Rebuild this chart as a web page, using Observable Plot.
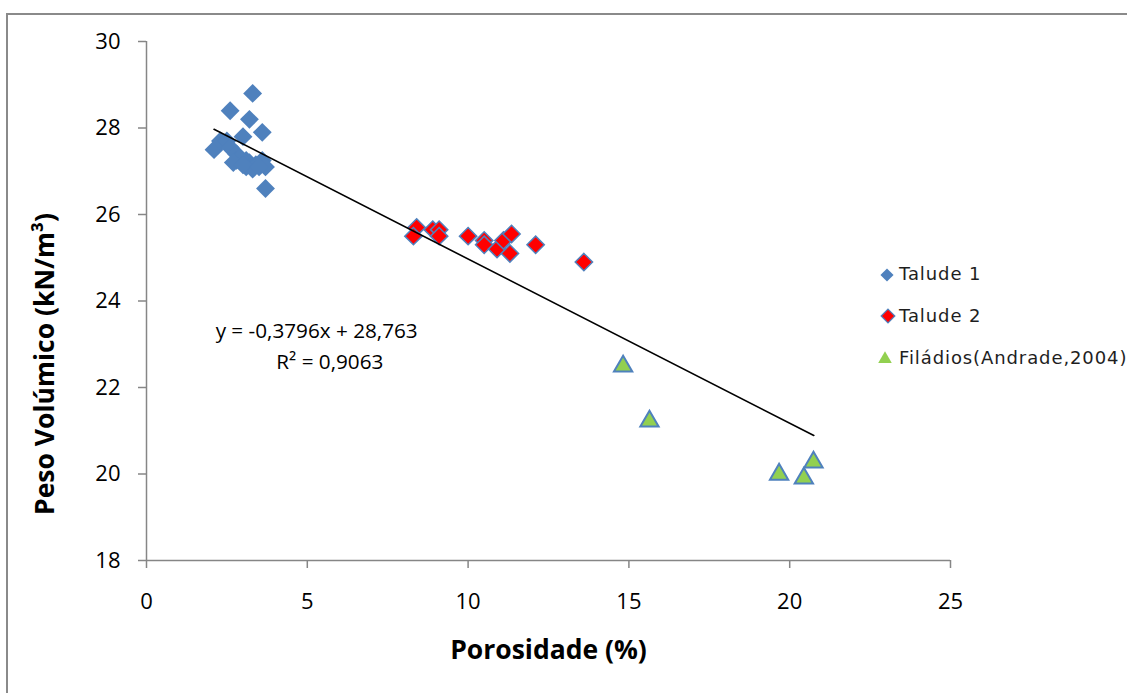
<!DOCTYPE html>
<html><head><meta charset="utf-8">
<script src="https://cdn.jsdelivr.net/npm/d3@7"></script>
<script src="https://cdn.jsdelivr.net/npm/@observablehq/plot@0.6"></script>
<style>
html,body{margin:0;padding:0;background:#fff;}
body{width:1127px;height:693px;overflow:hidden;position:relative;}
#frame{position:absolute;left:6px;top:13px;width:1200px;height:800px;border:2px solid #8a8a8a;box-sizing:border-box;}
#chart{position:absolute;left:0;top:0;}
.leg{position:absolute;left:0;top:0;font-family:"DejaVu Sans",sans-serif;font-size:18px;letter-spacing:0.9px;color:#1e1e1e;white-space:nowrap;}
.leg svg{position:absolute;overflow:visible;}
.leg span{position:absolute;}
</style></head>
<body>
<div id="frame"></div>
<div id="chart"></div>
<div id="legend"></div>
<script>
// ---- data ----
const talude1X = [3.3, 2.6, 3.2, 3.6, 3.0, 2.1, 2.3, 2.5, 2.6, 2.8, 2.8, 3.1, 3.2, 3.4, 3.6, 3.7, 3.1, 2.9, 3.3, 2.7, 3.0, 3.5, 3.7];
const talude1Y = [28.8, 28.4, 28.2, 27.9, 27.8, 27.5, 27.7, 27.7, 27.55, 27.4, 27.25, 27.25, 27.2, 27.15, 27.25, 27.1, 27.1, 27.3, 27.05, 27.2, 27.15, 27.1, 26.6];
const talude2X = [8.4, 8.3, 8.9, 9.1, 9.1, 10.0, 10.5, 10.5, 10.9, 11.1, 11.35, 11.3, 12.1, 13.6];
const talude2Y = [25.7, 25.5, 25.65, 25.65, 25.5, 25.5, 25.4, 25.3, 25.2, 25.4, 25.55, 25.1, 25.3, 24.9];
const filadiosX = [14.82, 15.64, 19.67, 20.44, 20.74];
const filadiosY = [22.49, 21.22, 19.99, 19.9, 20.27];
const trendX = [2.1, 20.75];
const trendY = [27.97, 20.89];
const seriesNames = ["Talude 1", "Talude 2", "Filádios(Andrade,2004)"];
const xTicks = [0, 5, 10, 15, 20, 25];
const yTicks = [18, 20, 22, 24, 26, 28, 30];
const equationLines = ["y = -0,3796x + 28,763", "R² = 0,9063"];
const equationX = [5.29, 5.7];
const equationY = [23.3, 22.58];
const xTitle = "Porosidade (%)";
const yTitle = "Peso Volúmico (kN/m³)";

const toRows = (xs, ys) => xs.map((x, i) => ({x, y: ys[i]}));
const t1 = toRows(talude1X, talude1Y);
const t2 = toRows(talude2X, talude2Y);
const fl = toRows(filadiosX, filadiosY);
const tr = toRows(trendX, trendY);
const eq = equationLines.map((t, i) => ({t, x: equationX[i], y: equationY[i]}));

const axisGray = "#868686";
const blue = "#4F81BD", red = "#FF0000", green = "#92D050";

const plot = Plot.plot({
  width: 1127, height: 693,
  marginLeft: 146, marginRight: 177, marginTop: 41, marginBottom: 133,
  x: {domain: [0, 25]},
  y: {domain: [18, 30]},
  style: {background: "transparent", fontFamily: "Open Sans", color: "#000"},
  marks: [
    Plot.ruleX([0], {stroke: axisGray, strokeWidth: 1.5}),
    Plot.ruleY([18], {stroke: axisGray, strokeWidth: 1.5}),
    Plot.axisX({ticks: xTicks, tickSize: 8, tickPadding: 25, tickFormat: d => String(d), label: null,
      stroke: axisGray, strokeWidth: 1.5, fill: "#000", fontSize: 22, fontFamily: "Open Sans"}),
    Plot.axisY({ticks: yTicks, tickSize: 8, tickPadding: 18, tickFormat: d => String(d), label: null,
      stroke: axisGray, strokeWidth: 1.5, fill: "#000", fontSize: 22, fontFamily: "Open Sans"}),
    Plot.dot(t1, {x: "x", y: "y", symbol: "diamond2", r: 8.5, fill: blue, stroke: "none"}),
    Plot.dot(t2, {x: "x", y: "y", symbol: "diamond2", r: 7.8, fill: red, stroke: blue, strokeWidth: 1.5}),
    Plot.dot(fl, {x: "x", y: "y", symbol: "triangle", r: 6.8, fill: green, stroke: blue, strokeWidth: 2}),
    Plot.line(tr, {x: "x", y: "y", stroke: "#000", strokeWidth: 1.6}),
    Plot.text(eq, {x: "x", y: "y", text: "t", fontSize: 20.7, fontFamily: "Open Sans", fill: "#000", textAnchor: "middle"}),
    Plot.text([xTitle], {frameAnchor: "bottom", dy: 98, fontSize: 26.5, fontWeight: "bold", fontFamily: "Open Sans", fill: "#000", textAnchor: "middle"}),
    Plot.text([yTitle], {frameAnchor: "left", dx: -101, dy: 63, rotate: -90, fontSize: 26.5, fontWeight: "bold", fontFamily: "Open Sans", fill: "#000", textAnchor: "middle"})
  ]
});
document.getElementById("chart").appendChild(plot);

// ---- legend ----
const legItems = [
  {name: seriesNames[0], sym: d3.symbolDiamond2, size: 110, fill: blue, stroke: "none", sw: 0, cx: 887, cy: 275, tx: 899, ty: 263},
  {name: seriesNames[1], sym: d3.symbolDiamond2, size: 120, fill: red, stroke: blue, sw: 1.2, cx: 888, cy: 316, tx: 899, ty: 305},
  {name: seriesNames[2], sym: d3.symbolTriangle, size: 80, fill: green, stroke: "none", sw: 0, cx: 885, cy: 359, tx: 899, ty: 347}
];
const leg = d3.select("#legend");
legItems.forEach(it => {
  const d = leg.append("div").attr("class", "leg");
  d.append("svg").attr("width", 1).attr("height", 1)
    .style("left", it.cx + "px").style("top", it.cy + "px")
    .append("path").attr("d", d3.symbol(it.sym, it.size)())
    .attr("fill", it.fill).attr("stroke", it.stroke).attr("stroke-width", it.sw);
  d.append("span").style("left", it.tx + "px").style("top", it.ty + "px").text(it.name);
});
</script>
</body></html>
